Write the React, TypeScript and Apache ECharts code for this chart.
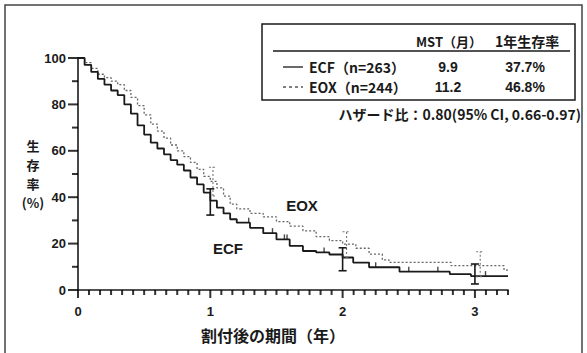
import React, { useEffect, useRef } from 'react';
import * as echarts from 'echarts';

// Kaplan-Meier readings (years, survival %)
const ecfTime = [0, 0.05, 0.1, 0.15, 0.2, 0.25, 0.3, 0.35, 0.4, 0.45, 0.5, 0.55, 0.6, 0.65, 0.7, 0.75, 0.8, 0.85, 0.9, 0.95, 1.0, 1.05, 1.1, 1.15, 1.2, 1.3, 1.4, 1.5, 1.6, 1.7, 1.8, 1.9, 2.0, 2.08, 2.2, 2.43, 2.81, 2.97, 3.25];
const ecfSurv = [100, 97, 94, 91, 88.5, 86, 84, 80, 76, 71, 67, 63.5, 61, 58.5, 56, 54, 51.5, 48.5, 45.5, 42, 38.5, 35.5, 33, 30.5, 29, 26.8, 24.5, 21.8, 19, 16.8, 16.2, 15.3, 14, 11.8, 9.8, 7.9, 6.8, 6.0, 6.0];

const eoxTime = [0, 0.05, 0.1, 0.15, 0.2, 0.25, 0.3, 0.35, 0.4, 0.45, 0.5, 0.55, 0.6, 0.65, 0.7, 0.75, 0.8, 0.85, 0.9, 0.95, 1.0, 1.05, 1.1, 1.15, 1.2, 1.3, 1.4, 1.5, 1.6, 1.7, 1.8, 1.9, 2.0, 2.1, 2.2, 2.3, 2.35, 2.82, 3.22, 3.25];
const eoxSurv = [100, 98, 95.5, 93, 91.5, 90, 88.5, 86, 83, 79.5, 75.5, 71.5, 68.5, 65.5, 62.5, 60, 57.5, 55, 52, 49, 46.8, 44, 40.5, 37, 35, 33, 31.5, 29.5, 27.5, 25.5, 23, 21.3, 19.8, 18, 15.5, 13, 11.9, 10.5, 8.6, 8.6];

// 95% CI bars
const ecfCiTime = [1.0, 2.0, 3.0];
const ecfCiLow = [32.3, 8.3, 2.6];
const ecfCiHigh = [43.6, 18.2, 11.2];
const eoxCiTime = [1.02, 2.03, 3.04];
const eoxCiLow = [40.5, 13.8, 5.7];
const eoxCiHigh = [52.9, 25.1, 16.5];

// censor marks (ECF)
const ecfCensor = [1.29, 1.47, 1.56, 1.58, 1.86, 2.25, 2.5, 2.72, 3.08];

const xLabels = [0, 1, 2, 3];
const yLabels = [0, 20, 40, 60, 80, 100];
const yMinorTicks = [10, 30, 50, 70, 90];
const monthTicks = Array.from({ length: 40 }, (_, i) => i / 12);

const FONT = "'Liberation Sans', Arial, 'Noto Sans CJK JP', sans-serif";
const CJK = "'Noto Sans CJK JP', 'Liberation Sans', sans-serif";
const INK = '#1a1a1a';

function stepAt(times: number[], surv: number[], t: number) {
  let v = surv[0];
  for (let i = 0; i < times.length; i++) if (times[i] <= t) v = surv[i];
  return v;
}

function ciRender(color: string, dash: number[] | null, width: number) {
  return (params: any, api: any) => {
    const lo = api.coord([api.value(0), api.value(1)]);
    const hi = api.coord([api.value(0), api.value(2)]);
    const hw = 4;
    const style = { stroke: color, lineWidth: width, lineDash: dash || undefined };
    return {
      type: 'group',
      children: [
        { type: 'line', shape: { x1: lo[0], y1: lo[1], x2: hi[0], y2: hi[1] }, style },
        { type: 'line', shape: { x1: lo[0] - hw, y1: lo[1], x2: lo[0] + hw, y2: lo[1] }, style },
        { type: 'line', shape: { x1: hi[0] - hw, y1: hi[1], x2: hi[0] + hw, y2: hi[1] }, style },
      ],
    };
  };
}

function tickSeries(data: number[][], size: number[], offset: number[]) {
  return {
    type: 'scatter',
    symbol: 'rect',
    symbolSize: size,
    symbolOffset: offset,
    itemStyle: { color: '#000' },
    data,
    clip: false,
    silent: true,
    z: 6,
  };
}

export default function App() {
  const ref = useRef<HTMLDivElement>(null);
  useEffect(() => {
    const chart = echarts.init(ref.current!, null, { renderer: 'svg' });
    const grid = { left: 78, right: 79, top: 58, bottom: 63 };
    const text = (t: string, x: number, y: number, size: number, align: string = 'center', family = FONT, weight: any = 'bold') => ({
      type: 'text',
      x,
      y,
      style: { text: t, fill: INK, font: `${weight} ${size}px ${family}`, textAlign: align, textVerticalAlign: 'middle' },
      z: 10,
    });
    const isYear = (t: number) => Math.abs(t - Math.round(t)) < 1e-6;
    chart.setOption({
      animation: false,
      backgroundColor: '#ffffff',
      grid,
      xAxis: {
        type: 'value',
        min: 0,
        max: 3.25,
        axisLine: { show: true, onZero: false, lineStyle: { color: INK, width: 1.6 } },
        axisTick: { show: false },
        axisLabel: { customValues: xLabels, margin: 15, color: INK, fontSize: 13, fontWeight: 'bold', fontFamily: FONT },
        splitLine: { show: false },
      },
      yAxis: {
        type: 'value',
        min: 0,
        max: 100,
        interval: 20,
        axisLine: { show: true, lineStyle: { color: INK, width: 1.6 } },
        axisTick: { show: false },
        axisLabel: { customValues: yLabels, margin: 12, color: INK, fontSize: 13, fontWeight: 'bold', fontFamily: FONT },
        splitLine: { show: false },
      },
      series: [
        {
          type: 'line',
          name: 'EOX',
          step: 'end',
          symbol: 'none',
          data: eoxTime.map((t, i) => [t, eoxSurv[i]]),
          lineStyle: { color: '#666', width: 1.3, type: [2, 2] },
          z: 2,
        },
        {
          type: 'line',
          name: 'ECF',
          step: 'end',
          symbol: 'none',
          data: ecfTime.map((t, i) => [t, ecfSurv[i]]),
          lineStyle: { color: INK, width: 1.8 },
          z: 3,
        },
        {
          type: 'custom',
          renderItem: ciRender('#777', [2, 2], 1.1),
          data: eoxCiTime.map((t, i) => [t, eoxCiLow[i], eoxCiHigh[i]]),
          clip: false,
          z: 4,
        },
        {
          type: 'custom',
          renderItem: ciRender(INK, null, 1.6),
          data: ecfCiTime.map((t, i) => [t, ecfCiLow[i], ecfCiHigh[i]]),
          clip: false,
          z: 5,
        },
        {
          type: 'scatter',
          symbol: 'rect',
          symbolSize: [1.4, 5],
          symbolOffset: [0, -2.5],
          itemStyle: { color: INK },
          data: ecfCensor.map((t) => [t, stepAt(ecfTime, ecfSurv, t)]),
          silent: true,
          z: 5,
        },
        // axis ticks: months (minor), years (major), y every 10 / 20
        tickSeries(monthTicks.filter((t) => !isYear(t)).map((t) => [t, 0]), [2, 5], [0, 2.5]),
        tickSeries(monthTicks.filter((t) => isYear(t)).map((t) => [t, 0]), [2, 8], [0, 4]),
        tickSeries(yLabels.map((v) => [0, v]), [10, 2], [-5, 0]),
        tickSeries(yMinorTicks.map((v) => [0, v]), [6, 2], [-3, 0]),
      ],
      graphic: [
        { type: 'rect', shape: { x: 5, y: 5, width: 577, height: 360 }, style: { fill: 'transparent', stroke: '#444', lineWidth: 1.5 }, z: 1, silent: true },
        { type: 'rect', shape: { x: 262, y: 24, width: 313, height: 76 }, style: { fill: '#fff', stroke: INK, lineWidth: 1.5 }, z: 9 },
        { type: 'line', shape: { x1: 273, y1: 51, x2: 570, y2: 51 }, style: { stroke: INK, lineWidth: 1.5 }, z: 10 },
        { type: 'line', shape: { x1: 283, y1: 67, x2: 303, y2: 67 }, style: { stroke: INK, lineWidth: 1.3 }, z: 10 },
        { type: 'line', shape: { x1: 283, y1: 87, x2: 303, y2: 87 }, style: { stroke: '#555', lineWidth: 1.3, lineDash: [3, 3] }, z: 10 },
        text('MST（月）', 449, 41, 13, 'center', CJK),
        text('1年生存率', 527, 41, 14, 'center', CJK),
        text('ECF（n=263）', 309, 67, 14, 'left', CJK),
        text('EOX（n=244）', 309, 87, 14, 'left', CJK),
        text('9.9', 448, 67, 14),
        text('11.2', 448, 87, 14),
        text('37.7%', 525, 67, 14),
        text('46.8%', 525, 87, 14),
        text('ハザード比：0.80(95% CI, 0.66-0.97)', 581, 114, 14, 'right', CJK),
        text('EOX', 302, 205, 15),
        text('ECF', 228, 248, 15),
        text('生', 33, 145, 13, 'center', CJK),
        text('存', 33, 164, 13, 'center', CJK),
        text('率', 33, 183, 13, 'center', CJK),
        text('(%)', 33, 202, 13, 'center', CJK),
        text('割付後の期間（年）', 273, 335, 16, 'center', CJK),
      ],
    });
    return () => chart.dispose();
  }, []);
  return <div ref={ref} style={{ position: 'absolute', left: 0, top: 0, width: 587, height: 353 }} />;
}
